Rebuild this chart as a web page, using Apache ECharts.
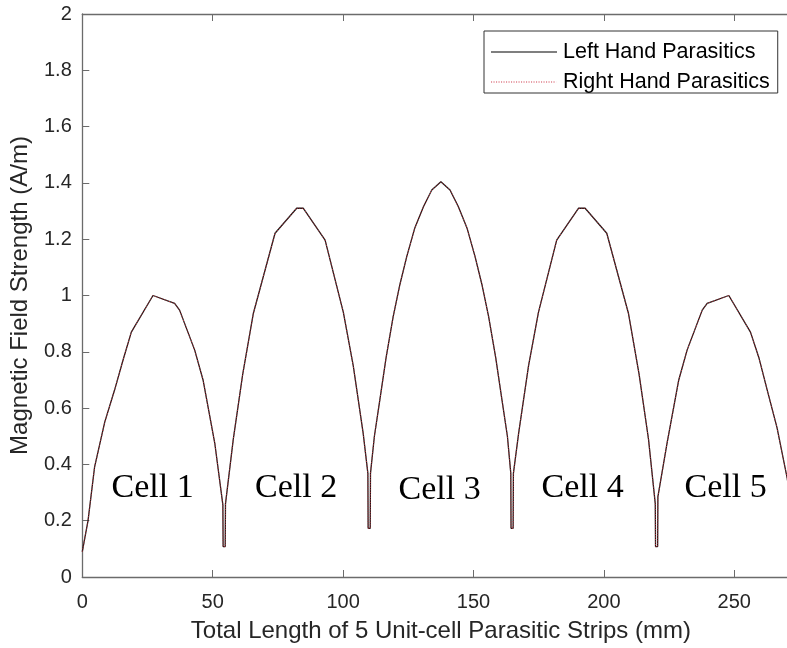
<!DOCTYPE html>
<html>
<head>
<meta charset="utf-8">
<title>Magnetic field strength along 5 unit-cell parasitic strips</title>
<script src="https://cdn.jsdelivr.net/npm/echarts@6/dist/echarts.min.js"></script>
<style>
  html, body { margin: 0; padding: 0; background: #fff; }
  #chart { width: 787px; height: 648px; }
</style>
</head>
<body>
<div id="chart"></div>
<script>
// Position along the five unit-cell strips (mm)
const lengthMm = [
  0, 2.2, 4.7, 8.6, 12.4, 15.6, 18.8, 27.1, 35.4, 37.3, 43.1, 46.3, 50.8, 53.9, 54.0, 54.8,
  54.9, 57.9, 61.5, 65.6, 73.9, 82.2, 84.7, 93.1, 100.1, 103.9, 107.7, 109.5, 109.6, 110.4,
  110.5, 112.0, 114.1, 116.5, 119.2, 121.8, 124.4, 127.5, 130.8, 134.0, 137.5, 141.0, 144.2,
  147.5, 150.6, 153.2, 155.8, 158.5, 160.9, 163.0, 164.3, 164.4, 165.2,
  165.3, 167.3, 171.1, 174.9, 181.9, 190.3, 192.8, 201.1, 209.4, 213.5, 217.1, 219.7, 219.8, 220.6,
  220.7, 224.2, 228.7, 231.9, 237.7, 239.6, 247.9, 256.2, 259.4, 262.6, 266.4, 270.3, 272.8, 275
];

// Field strength (A/m), left-hand parasitics
const leftHand = [
  0.09, 0.20, 0.39, 0.55, 0.665, 0.77, 0.87, 1.00, 0.972, 0.948, 0.806, 0.70, 0.475, 0.256, 0.108, 0.108,
  0.26, 0.49, 0.72, 0.937, 1.221, 1.31, 1.31, 1.197, 0.94, 0.75, 0.51, 0.368, 0.173, 0.173,
  0.368, 0.50, 0.63, 0.78, 0.925, 1.04, 1.138, 1.24, 1.315, 1.375, 1.404, 1.375, 1.315,
  1.24, 1.138, 1.04, 0.925, 0.78, 0.63, 0.50, 0.368, 0.173, 0.173,
  0.368, 0.51, 0.75, 0.94, 1.197, 1.31, 1.31, 1.221, 0.937, 0.72, 0.49, 0.26, 0.108, 0.108,
  0.285, 0.475, 0.70, 0.806, 0.948, 0.972, 1.00, 0.87, 0.78, 0.665, 0.53, 0.35, 0.20, 0.09
];

// Field strength (A/m), right-hand parasitics (coincides with the left-hand curve)
const rightHand = [
  0.09, 0.20, 0.39, 0.55, 0.665, 0.77, 0.87, 1.00, 0.972, 0.948, 0.806, 0.70, 0.475, 0.256, 0.108, 0.108,
  0.26, 0.49, 0.72, 0.937, 1.221, 1.31, 1.31, 1.197, 0.94, 0.75, 0.51, 0.368, 0.173, 0.173,
  0.368, 0.50, 0.63, 0.78, 0.925, 1.04, 1.138, 1.24, 1.315, 1.375, 1.404, 1.375, 1.315,
  1.24, 1.138, 1.04, 0.925, 0.78, 0.63, 0.50, 0.368, 0.173, 0.173,
  0.368, 0.51, 0.75, 0.94, 1.197, 1.31, 1.31, 1.221, 0.937, 0.72, 0.49, 0.26, 0.108, 0.108,
  0.285, 0.475, 0.70, 0.806, 0.948, 0.972, 1.00, 0.87, 0.78, 0.665, 0.53, 0.35, 0.20, 0.09
];

const seriesNames = ['Left Hand Parasitics', 'Right Hand Parasitics'];
const cellLabels = ['Cell 1', 'Cell 2', 'Cell 3', 'Cell 4', 'Cell 5'];
const xTitle = 'Total Length of 5 Unit-cell Parasitic Strips (mm)';
const yTitle = 'Magnetic Field Strength (A/m)';

const pairs = (ys) => lengthMm.map((x, i) => [x, ys[i]]);

const sansFont = '"Liberation Sans", Arial, Helvetica, sans-serif';
const serifFont = '"Liberation Serif", "Times New Roman", serif';
const axisColor = '#6b6b6b';
const textColor = '#262626';

const solidStyle = { color: '#1a1a1a', width: 1.3, type: 'solid' };
const dottedStyle = { color: '#c0303a', width: 1, type: [1, 1.5] };

// legend samples: a solid bar and a row of dots, each 66 wide
const solidIcon = 'path://M0,0L66,0L66,1.2L0,1.2Z';
let dotPath = '';
for (let x = 0; x + 1.1 <= 66; x += 2.5) {
  dotPath += 'M' + x + ',0L' + (x + 1.1) + ',0L' + (x + 1.1) + ',1.2L' + x + ',1.2Z';
}
dotPath += 'M65.9,0L66,0L66,1.2L65.9,1.2Z';
const dottedIcon = 'path://' + dotPath;

// caption anchors (left edge, baseline) in pixels
const cellPos = [[111.5, 498], [255, 497.5], [398.5, 500], [541.5, 497.5], [684.5, 497.5]];

const chart = echarts.init(document.getElementById('chart'), null, { renderer: 'canvas' });

const axisCommon = {
  axisLine: { show: true, lineStyle: { color: axisColor, width: 1.3 } },
  axisTick: { show: true, inside: true, length: 7, lineStyle: { color: axisColor, width: 1 } },
  splitLine: { show: false }
};

chart.setOption({
  animation: false,
  backgroundColor: '#fff',
  // the plot box runs past the right edge of the canvas (axis ends at 275 mm)
  grid: { left: 82.3, top: 14, width: 717.2, height: 563, outerBoundsMode: 'none', containLabel: false },
  xAxis: [
    Object.assign({
      type: 'value', min: 0, max: 275, interval: 50, position: 'bottom',
      name: xTitle, nameLocation: 'middle', nameGap: 42,
      nameTextStyle: { fontFamily: sansFont, fontSize: 24, color: textColor },
      axisLabel: { fontFamily: sansFont, fontSize: 20, color: textColor, margin: 15, showMaxLabel: false }
    }, axisCommon),
    Object.assign({
      type: 'value', min: 0, max: 275, interval: 50, position: 'top',
      axisLabel: { show: false }
    }, axisCommon)
  ],
  yAxis: Object.assign({
    type: 'value', min: 0, max: 2, interval: 0.2,
    name: yTitle, nameLocation: 'middle', nameGap: 50, nameRotate: 90,
    nameTextStyle: { fontFamily: sansFont, fontSize: 24, color: textColor },
    axisLabel: { fontFamily: sansFont, fontSize: 20, color: textColor, margin: 10.5 }
  }, axisCommon),
  legend: {
    orient: 'vertical', left: 484, top: 31,
    backgroundColor: '#fff', borderColor: '#333', borderWidth: 1,
    padding: [10, 8, 0, 7], itemGap: 8, itemWidth: 66, itemHeight: 14,
    textStyle: { fontFamily: sansFont, fontSize: 21.5, color: '#000', padding: [0, 0, 0, 1] },
    data: [
      { name: seriesNames[0], icon: solidIcon, itemStyle: { color: '#000' } },
      { name: seriesNames[1], icon: dottedIcon, itemStyle: { color: '#d04050' } }
    ]
  },
  series: [
    {
      name: seriesNames[0], type: 'line', data: pairs(leftHand),
      symbol: 'none', smooth: false,
      lineStyle: solidStyle, itemStyle: { color: '#000' }, z: 2
    },
    {
      name: seriesNames[1], type: 'line', data: pairs(rightHand),
      symbol: 'none', smooth: false,
      lineStyle: dottedStyle, itemStyle: { color: '#c0303a' }, z: 3
    }
  ],
  graphic: cellLabels.map((t, i) => ({
    type: 'text', left: cellPos[i][0], top: cellPos[i][1] - 26.5, z: 10,
    style: { text: t, fontFamily: serifFont, fontSize: 34, fill: '#000' }
  }))
});
</script>
</body>
</html>
